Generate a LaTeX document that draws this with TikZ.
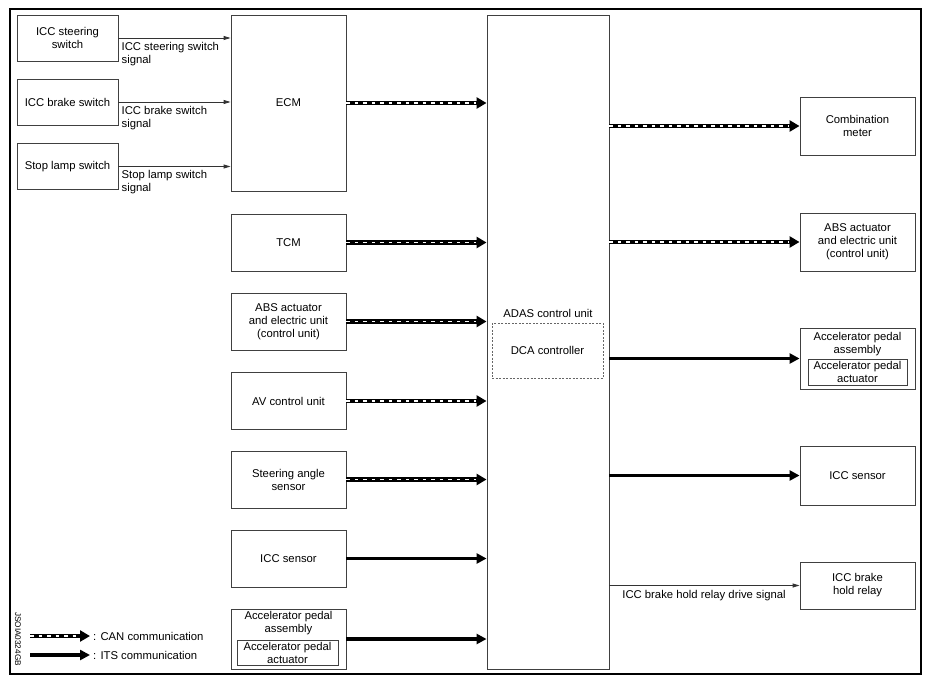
\documentclass[tikz,border=0pt]{standalone}
\usepackage{fontspec}
\setmainfont{Liberation Sans}
\usepackage{tikz}
\usetikzlibrary{arrows.meta}
\tikzstyle{box}=[fill=white, draw=black!75, line width=0.9pt, shape=rectangle, align=center, inner sep=0pt, font=\fontsize{11.3}{13}\selectfont]
\tikzstyle{switch box}=[box, minimum width=101pt, minimum height=46pt]
\tikzstyle{unit box}=[box, minimum width=115pt, minimum height=57pt]
\tikzstyle{inner box}=[box, minimum height=25pt]
\tikzstyle{dca box}=[box, draw=black!60, dash pattern=on 2pt off 1.5pt]
\tikzstyle{txt}=[align=center, inner sep=1pt, font=\fontsize{11.3}{13}\selectfont]
\tikzstyle{wire}=[draw=black!80, line width=0.9pt, -{Triangle[length=7pt,width=4pt]}]
\tikzstyle{its}=[line width=3.2pt, -{Triangle[length=10pt,width=10pt]}]
\tikzstyle{can}=[line width=4.6pt, -{Triangle[length=10pt,width=11pt]}, postaction={draw=white, line width=1.8pt, dash pattern=on 3.5pt off 5pt, shorten >=11pt, -}]
\pgfdeclarelayer{nodelayer}
\pgfdeclarelayer{edgelayer}
\pgfsetlayers{main,nodelayer,edgelayer}

\begin{document}
\begin{tikzpicture}[x=1pt, y=-1pt]
	\useasboundingbox (0,0) rectangle (931,685);
	\begin{pgfonlayer}{nodelayer}
		\draw [line width=2.6pt] (10,9) rectangle (921,674);
		% inputs to ECM
		\node [style=switch box] (sw1) at (67.5, 38) {ICC steering\\switch};
		\node [style=switch box] (sw2) at (67.5, 102) {ICC brake switch};
		\node [style=switch box] (sw3) at (67.5, 166.5) {Stop lamp switch};
		% left column
		\node [style=unit box, minimum height=176pt] (ecm) at (288.5, 103) {ECM};
		\node [style=unit box] (tcm) at (288.5, 242.5) {TCM};
		\node [style=unit box] (abs l) at (288.5, 321.5) {ABS actuator\\and electric unit\\(control unit)};
		\node [style=unit box] (av) at (288.5, 401) {AV control unit};
		\node [style=unit box] (sas) at (288.5, 479.5) {Steering angle\\sensor};
		\node [style=unit box] (icc l) at (288.5, 558.5) {ICC sensor};
		\node [style=unit box, minimum height=60pt] (acc l) at (288.5, 639) {};
		\node [style=txt] (acc l txt) at (288.5, 623.5) {Accelerator pedal\\assembly};
		\node [style=inner box, minimum width=101pt] (act l) at (287.5, 652.5) {Accelerator pedal\\actuator};
		% ADAS control unit
		\node [style=box, minimum width=122pt, minimum height=654pt] (adas) at (548, 342) {};
		\node [style=txt] (adas txt) at (548, 313) {ADAS control unit};
		\node [style=dca box, minimum width=111pt, minimum height=55pt] (dca) at (547.5, 350.5) {DCA controller};
		% right column
		\node [style=unit box, minimum height=58pt] (meter) at (857.5, 126) {Combination\\meter};
		\node [style=unit box, minimum height=58pt] (abs r) at (857.5, 242) {ABS actuator\\and electric unit\\(control unit)};
		\node [style=unit box, minimum height=61pt] (acc r) at (857.5, 358.5) {};
		\node [style=txt] (acc r txt) at (857.5, 344.5) {Accelerator pedal\\assembly};
		\node [style=inner box, minimum width=99pt, minimum height=26pt] (act r) at (857.5, 372) {Accelerator pedal\\actuator};
		\node [style=unit box, minimum height=59pt] (icc r) at (857.5, 475.5) {ICC sensor};
		\node [style=unit box, minimum height=47pt] (relay) at (857.5, 585.5) {ICC brake\\hold relay};
		% legend
		\coordinate (can a) at (30, 636);
		\coordinate (can b) at (90, 636);
		\coordinate (its a) at (30, 655);
		\coordinate (its b) at (90, 655);
		\node [style=txt, anchor=west] (can txt) at (92, 636) {: CAN communication};
		\node [style=txt, anchor=west] (its txt) at (92, 655) {: ITS communication};
		\node [rotate=-90, inner sep=0pt, font=\fontsize{8.2}{9}\selectfont] (code) at (18, 639) {JSOIA0324GB};
	\end{pgfonlayer}
	\begin{pgfonlayer}{edgelayer}
		\draw [style=wire] (sw1) -- (sw1 -| ecm.west);
		\draw [style=wire] (sw2) -- (sw2 -| ecm.west);
		\draw [style=wire] (sw3) -- (sw3 -| ecm.west);
		\node [style=txt, anchor=north west, align=left] at ([xshift=2pt, yshift=-3pt]sw1.east) {ICC steering switch\\signal};
		\node [style=txt, anchor=north west, align=left] at ([xshift=2pt, yshift=-3pt]sw2.east) {ICC brake switch\\signal};
		\node [style=txt, anchor=north west, align=left] at ([xshift=2pt, yshift=-3pt]sw3.east) {Stop lamp switch\\signal};
		\draw [style=can] (ecm) -- (ecm -| adas.west);
		\draw [style=can] (tcm) -- (tcm -| adas.west);
		\draw [style=can] (abs l) -- (abs l -| adas.west);
		\draw [style=can] (av) -- (av -| adas.west);
		\draw [style=can] (sas) -- (sas -| adas.west);
		\draw [style=its] (icc l) -- (icc l -| adas.west);
		\draw [style=its] (acc l) -- (acc l -| adas.west);
		\draw [style=can] (adas.east |- meter) -- (meter);
		\draw [style=can] (adas.east |- abs r) -- (abs r);
		\draw [style=its] (adas.east |- acc r) -- (acc r);
		\draw [style=its] (adas.east |- icc r) -- (icc r);
		\draw [style=wire] (adas.east |- relay) -- (relay);
		\node [style=txt, anchor=north] (relay txt) at (704, 589) {ICC brake hold relay drive signal};
		\draw [style=can] (can a) -- (can b);
		\draw [style=its] (its a) -- (its b);
	\end{pgfonlayer}
\end{tikzpicture}
\end{document}
